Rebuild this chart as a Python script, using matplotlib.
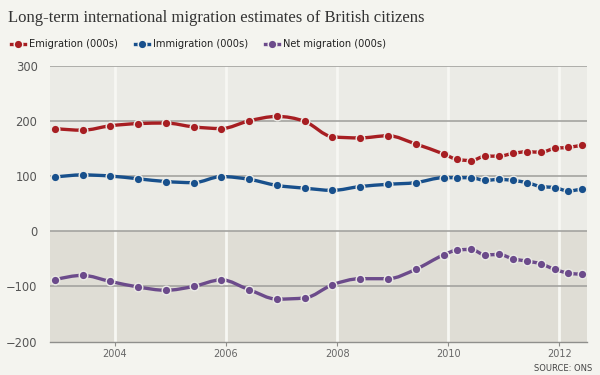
import numpy as np
import matplotlib
matplotlib.use('Agg')
import matplotlib.pyplot as plt
from matplotlib.path import Path
from matplotlib.patches import PathPatch
from matplotlib.lines import Line2D

# year-ending dates as decimal years (half-yearly, then quarterly from 2010)
dates = [2002.917, 2003.417, 2003.917, 2004.417, 2004.917, 2005.417, 2005.917,
         2006.417, 2006.917, 2007.417, 2007.917, 2008.417, 2008.917, 2009.417,
         2009.917, 2010.167, 2010.417, 2010.667, 2010.917, 2011.167, 2011.417,
         2011.667, 2011.917, 2012.167, 2012.417]
emigration = [186, 183, 191, 195, 196, 189, 186, 200, 208, 199, 171, 169, 173,
              158, 140, 130, 128, 136, 136, 141, 144, 143, 150, 152, 156]
immigration = [98, 102, 100, 95, 90, 88, 99, 94, 83, 78, 74, 81, 85, 88, 97,
               97, 97, 92, 94, 92, 88, 81, 79, 73, 77]
net = [-88, -80, -91, -101, -107, -100, -88, -106, -123, -121, -97, -86, -86,
       -69, -43, -34, -33, -43, -42, -50, -54, -59, -69, -76, -78]

series = [('Emigration (000s)', emigration, '#a71e22'),
          ('Immigration (000s)', immigration, '#18508c'),
          ('Net migration (000s)', net, '#6c4b8b')]

yticks = [-200, -100, 0, 100, 200, 300]
xticks = [2004, 2006, 2008, 2010, 2012]


def monotone_path(x, y):
    # cubic bezier through the points, monotone in x (like d3 curveMonotoneX)
    x = np.asarray(x, float)
    y = np.asarray(y, float)
    n = len(x)
    h = np.diff(x)
    s = np.diff(y) / h
    t = np.zeros(n)
    for i in range(1, n - 1):
        if s[i - 1] * s[i] > 0:
            p = (s[i - 1] * h[i] + s[i] * h[i - 1]) / (h[i - 1] + h[i])
            t[i] = np.sign(s[i - 1]) * min(2 * abs(s[i - 1]), 2 * abs(s[i]), abs(p))
    t[0] = (3 * s[0] - t[1]) / 2
    t[-1] = (3 * s[-1] - t[-2]) / 2
    verts = [(x[0], y[0])]
    codes = [Path.MOVETO]
    for i in range(n - 1):
        d = h[i] / 3
        verts += [(x[i] + d, y[i] + d * t[i]),
                  (x[i + 1] - d, y[i + 1] - d * t[i + 1]),
                  (x[i + 1], y[i + 1])]
        codes += [Path.CURVE4] * 3
    return Path(verts, codes)


fig = plt.figure(figsize=(6, 3.75), dpi=100, facecolor='#f4f4ef')
ax = fig.add_axes([0.0833, 0.089, 0.895, 0.736])
ax.set_facecolor('#ebebe6')
ax.set_xlim(2002.83, 2012.5)
ax.set_ylim(-200, 300)

ax.axhspan(-200, 0, color='#dfddd5', zorder=0, lw=0)
for xt in xticks:
    ax.axvline(xt, color='#f7f7f3', lw=2, zorder=1)
for yt in yticks[1:]:
    ax.axhline(yt, color='#a3a3a0', lw=1.2, zorder=1.5)

for name, vals, col in series:
    ax.add_patch(PathPatch(monotone_path(dates, vals), fill=False, edgecolor=col,
                           lw=2.4, zorder=3, capstyle='round'))
    ax.plot(dates, vals, ls='none', marker='o', ms=6.2, mfc=col,
            mec='#ebebe6', mew=1.0, zorder=4)

for side in ['top', 'right', 'left']:
    ax.spines[side].set_visible(False)
ax.spines['bottom'].set_color('#8f8f8c')
ax.spines['bottom'].set_linewidth(1.0)

ax.set_yticks(yticks)
ax.set_yticklabels(['\u2212200', '\u2212100', '0', '100', '200', '300'])
ax.tick_params(axis='y', length=0, pad=9, labelsize=8.3, labelcolor='#555555')
ax.set_xticks(xticks)
ax.tick_params(axis='x', length=3, width=0.8, color='#8f8f8c', pad=2,
               labelsize=7, labelcolor='#666666')

fig.text(0.013, 0.953, 'Long-term international migration estimates of British citizens',
         family='Liberation Serif', fontsize=12.0, color='#333333', va='center')

handles = [Line2D([], [], color=col, lw=2.4, marker='o', ms=6.2, mfc=col,
                  mec='#f4f4ef', mew=1.0) for _, _, col in series]
fig.legend(handles, [s[0] for s in series], loc='center left',
           bbox_to_anchor=(0.003, 0.882), ncol=3, frameon=False, fontsize=7.1,
           handlelength=1.45, handletextpad=0.45, columnspacing=1.65,
           labelcolor='#222222')

fig.text(0.987, 0.018, 'SOURCE: ONS', ha='right', va='center', fontsize=6,
         color='#444444')

fig.savefig('out.png', dpi=100, facecolor=fig.get_facecolor())
